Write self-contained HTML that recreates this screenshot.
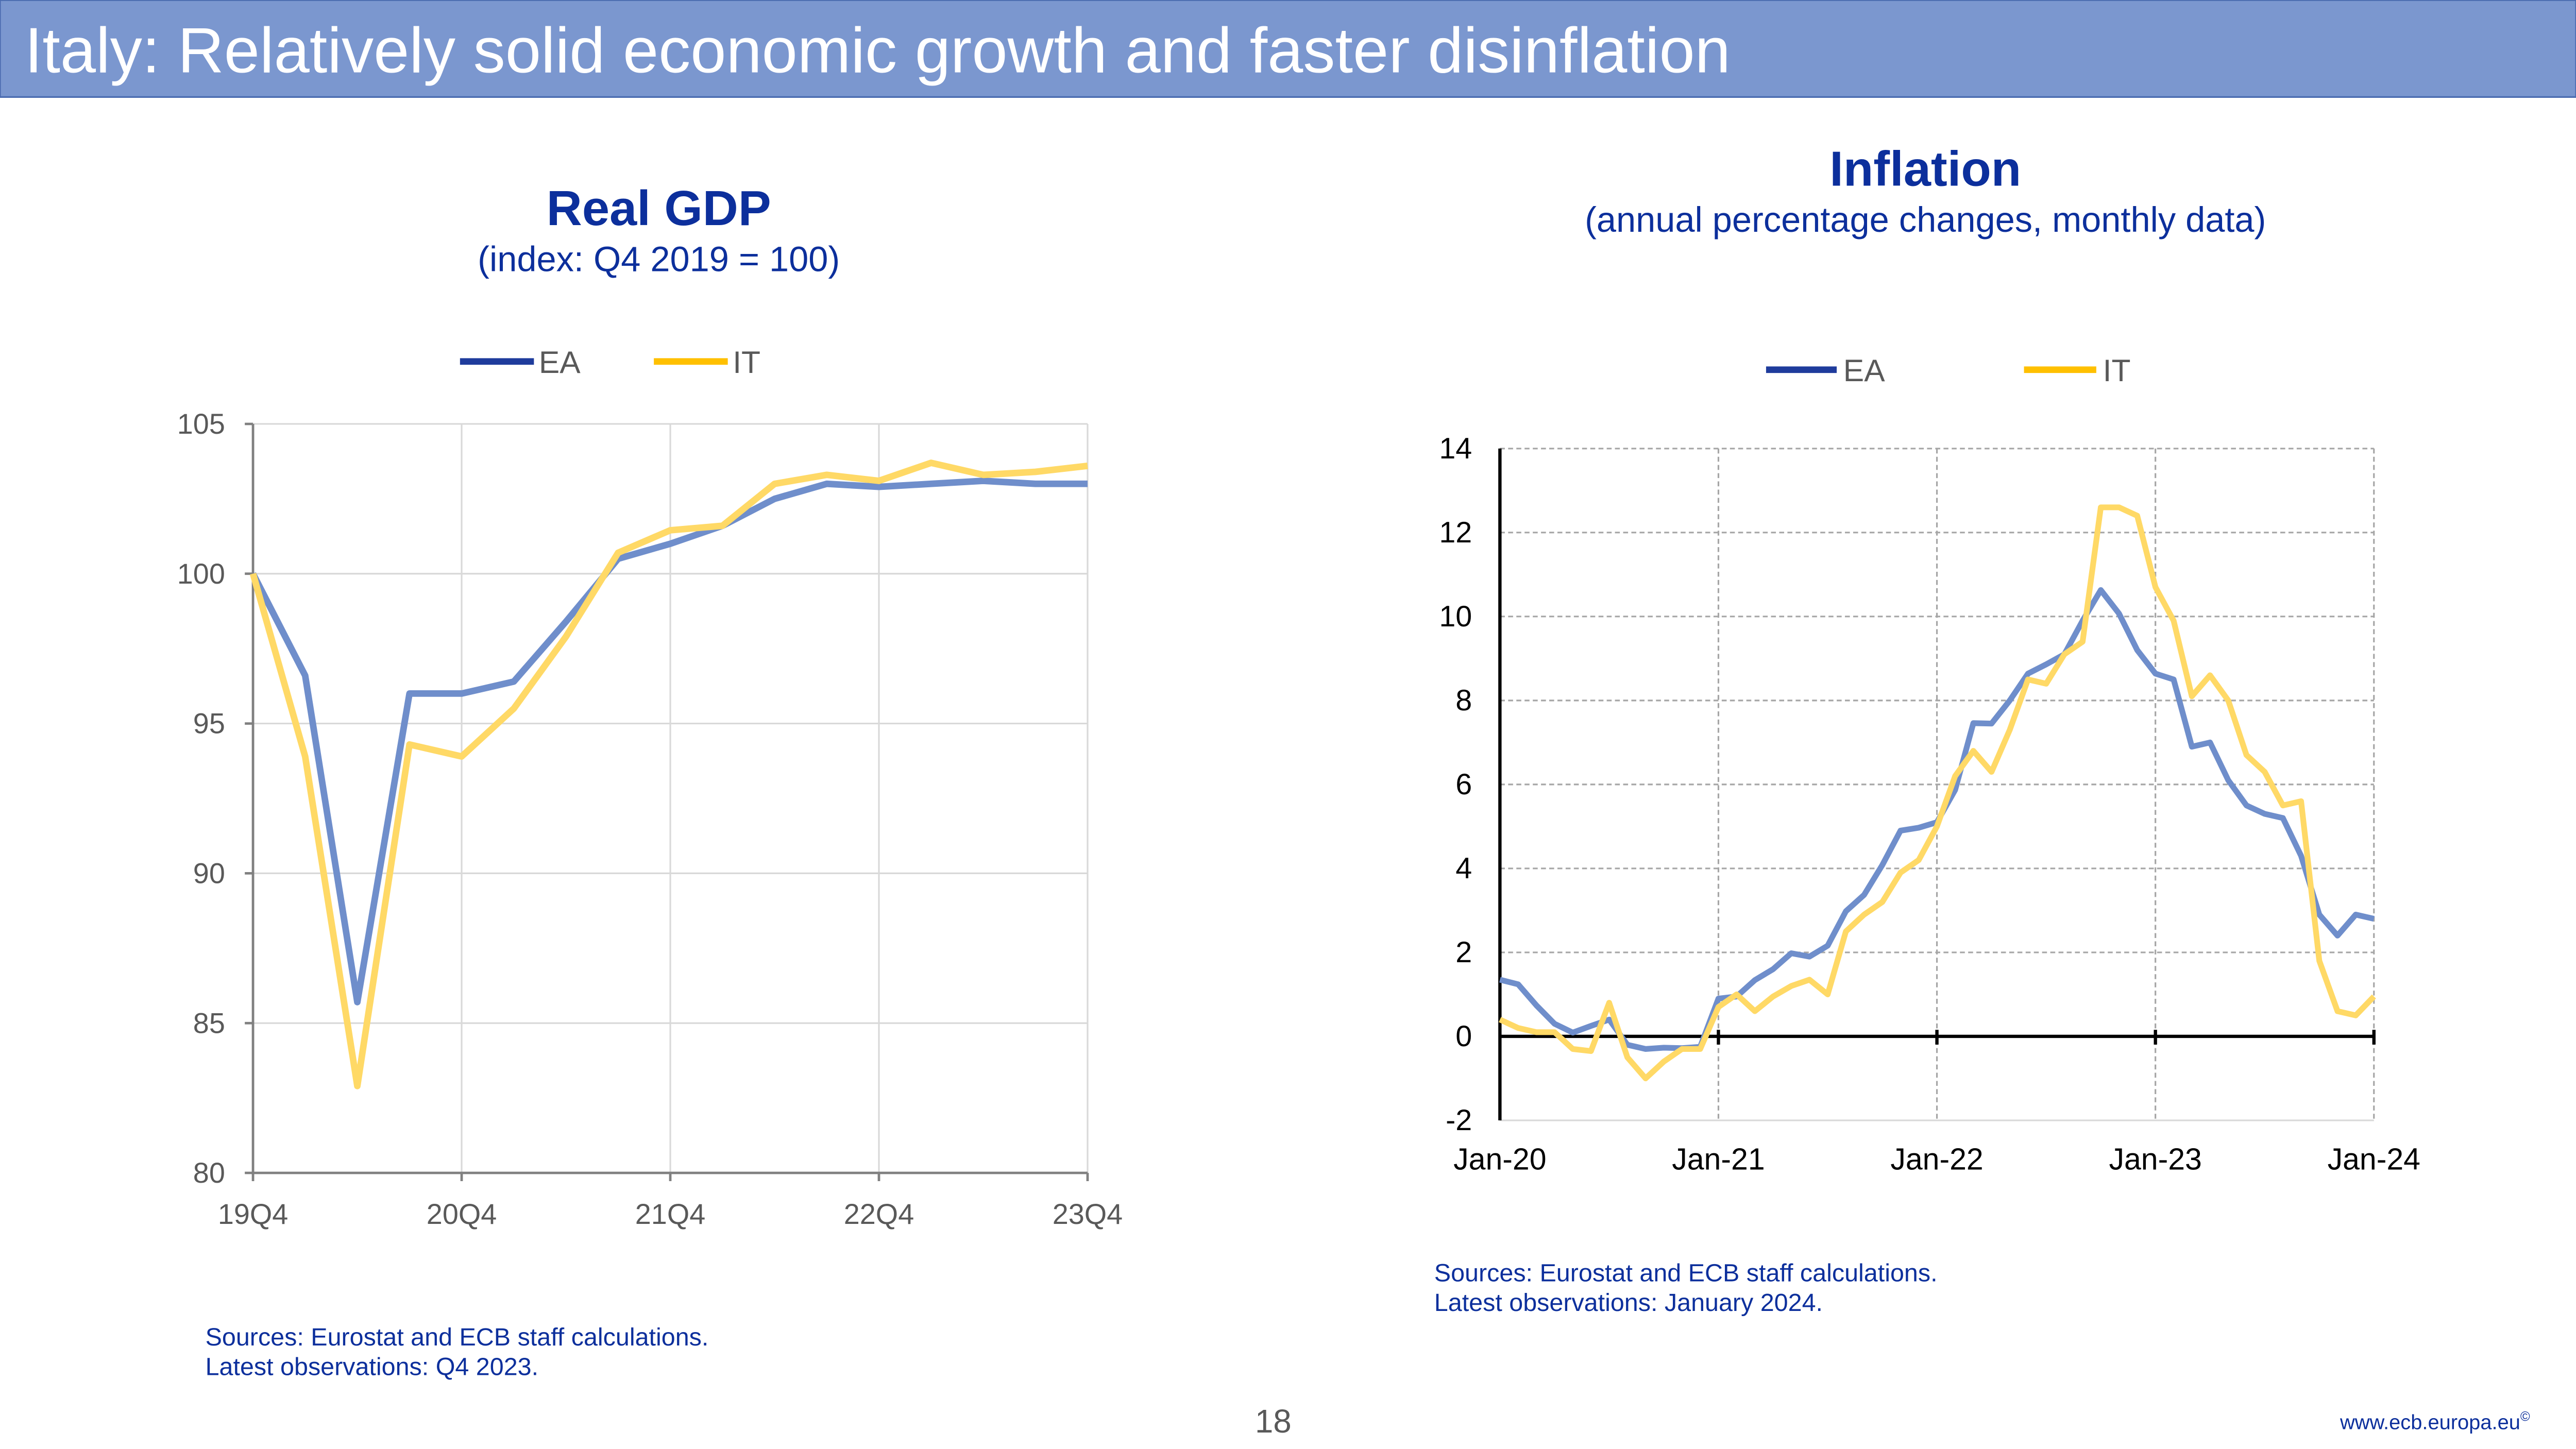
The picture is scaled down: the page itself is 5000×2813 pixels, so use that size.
<!DOCTYPE html>
<html><head><meta charset="utf-8"><style>
html,body{margin:0;padding:0;background:#fff;}
svg{display:block;font-family:"Liberation Sans",Arial,sans-serif;}
</style></head><body>
<svg id="s" width="5000" height="2813" viewBox="0 0 1568 882" xmlns="http://www.w3.org/2000/svg">
<rect x="0" y="0" width="1568" height="59" fill="#7b97cf" stroke="#4a6bb0" stroke-width="1"/>
<text x="15" y="44" font-size="39" fill="#fff">Italy: Relatively solid economic growth and faster disinflation</text>

<text x="401" y="137" font-size="30" font-weight="bold" fill="#0c2f9c" text-anchor="middle">Real GDP</text>
<text x="401" y="165" font-size="21.5" fill="#0c2f9c" text-anchor="middle">(index: Q4 2019 = 100)</text>
<g>
<line x1="280" y1="220" x2="325" y2="220" stroke="#1f3c9c" stroke-width="4"/>
<text x="328" y="227" font-size="19" fill="#595959">EA</text>
<line x1="398" y1="220" x2="443" y2="220" stroke="#ffc000" stroke-width="4"/>
<text x="446" y="227" font-size="19" fill="#595959">IT</text>
</g>
<g id="gdp"></g>

<text x="1172" y="113" font-size="30" font-weight="bold" fill="#0c2f9c" text-anchor="middle">Inflation</text>
<text x="1172" y="141" font-size="21.5" fill="#0c2f9c" text-anchor="middle">(annual percentage changes, monthly data)</text>
<g>
<line x1="1075" y1="225" x2="1118" y2="225" stroke="#1f3c9c" stroke-width="4"/>
<text x="1122" y="232" font-size="19" fill="#595959">EA</text>
<line x1="1232" y1="225" x2="1276" y2="225" stroke="#ffc000" stroke-width="4"/>
<text x="1280" y="232" font-size="19" fill="#595959">IT</text>
</g>
<g id="infl"></g>

<text x="125" y="819" font-size="15.2" fill="#0c2f9c">Sources: Eurostat and ECB staff calculations.</text>
<text x="125" y="837" font-size="15.2" fill="#0c2f9c">Latest observations: Q4 2023.</text>
<text x="873" y="780" font-size="15.2" fill="#0c2f9c">Sources: Eurostat and ECB staff calculations.</text>
<text x="873" y="798" font-size="15.2" fill="#0c2f9c">Latest observations: January 2024.</text>
<text x="775" y="872" font-size="20" fill="#595959" text-anchor="middle">18</text>
<text x="1540" y="870" font-size="12.5" fill="#0c2f9c" text-anchor="end">www.ecb.europa.eu<tspan font-size="8" dy="-5">©</tspan></text>
</svg>
<script>
const gdpCats=["19Q4","20Q1","20Q2","20Q3","20Q4","21Q1","21Q2","21Q3","21Q4","22Q1","22Q2","22Q3","22Q4","23Q1","23Q2","23Q3","23Q4"];
const gdpEA=[100,96.6,85.7,96.0,96.0,96.4,98.4,100.5,101.0,101.6,102.5,103.0,102.9,103.0,103.1,103.0,103.0];
const gdpIT=[100,93.9,82.9,94.3,93.9,95.5,97.9,100.7,101.45,101.6,103.0,103.3,103.1,103.7,103.3,103.4,103.6];
const gdpTicks=[80,85,90,95,100,105];
const gdpXLabels=["19Q4","20Q4","21Q4","22Q4","23Q4"];

const inflEA=[1.35,1.24,0.74,0.3,0.09,0.25,0.4,-0.2,-0.3,-0.27,-0.28,-0.25,0.9,0.95,1.34,1.6,1.98,1.9,2.16,2.98,3.37,4.08,4.9,4.97,5.1,5.87,7.46,7.45,8.0,8.64,8.86,9.1,9.9,10.63,10.07,9.2,8.64,8.5,6.9,7.0,6.1,5.5,5.3,5.2,4.3,2.9,2.4,2.9,2.8];
const inflIT=[0.4,0.2,0.1,0.1,-0.3,-0.35,0.8,-0.5,-1.0,-0.6,-0.3,-0.3,0.7,1.0,0.6,0.95,1.2,1.35,1.0,2.5,2.9,3.2,3.9,4.2,5.0,6.2,6.8,6.3,7.3,8.5,8.4,9.1,9.4,12.6,12.6,12.4,10.7,9.9,8.1,8.6,8.0,6.7,6.3,5.5,5.6,1.8,0.6,0.5,0.95];
const inflTicks=[-2,0,2,4,6,8,10,12,14];
const inflXLabels=["Jan-20","Jan-21","Jan-22","Jan-23","Jan-24"];

const NS="http://www.w3.org/2000/svg";
function mk(tag,attrs,parent,txt){const e=document.createElementNS(NS,tag);for(const k in attrs)e.setAttribute(k,attrs[k]);if(txt!==undefined)e.textContent=txt;parent.appendChild(e);return e;}

(function(){
const g=document.getElementById('gdp');
const x0=154,x1=662,yTop=258,yBot=714,vmin=80,vmax=105;
const xs=i=>x0+(x1-x0)*i/(gdpCats.length-1);
const ys=v=>yBot-(v-vmin)/(vmax-vmin)*(yBot-yTop);
gdpTicks.forEach(t=>{
 const l=mk('line',{x1:x0,x2:x1,y1:ys(t),y2:ys(t),stroke:'#d9d9d9','stroke-width':1},g);
 
 
 const tk=mk('line',{x1:x0-5,x2:x0,y1:ys(t),y2:ys(t),stroke:'#808080','stroke-width':1.5},g);
 
 
 const tx=mk('text',{x:x0-17,y:ys(t)+6,'font-size':17.5,fill:'#595959','text-anchor':'end'},g,String(t));
 
 
});
gdpXLabels.forEach(lab=>{
 const i=gdpCats.indexOf(lab);const x=xs(i);
 if(i>0){const l=mk('line',{x1:x,x2:x,y1:yTop,y2:yBot,stroke:'#d9d9d9','stroke-width':1},g);
 
 }
 const tk=mk('line',{x1:x,x2:x,y1:yBot,y2:yBot+5,stroke:'#808080','stroke-width':1.5},g);
 
 
 const tx=mk('text',{x:x,y:yBot+31,'font-size':17.5,fill:'#595959','text-anchor':'middle'},g,lab);
 
 
});
const ax=mk('path',{d:`M${x0},${yTop} V${yBot} H${x1}`,stroke:'#808080','stroke-width':1.5,fill:'none'},g);


[[gdpEA,'#6f8ecb','gdp-line-ea'],[gdpIT,'#ffd966','gdp-line-it']].forEach(([d,c,n])=>{
 const p=mk('polyline',{points:d.map((v,i)=>xs(i)+','+ys(v)).join(' '),fill:'none',stroke:c,'stroke-width':4,'stroke-linejoin':'round'},g);
 
 
});
})();

(function(){
const g=document.getElementById('infl');
const x0=913,x1=1445,yTop=273,yBot=682,vmin=-2,vmax=14,n=inflEA.length;
const xs=i=>x0+(x1-x0)*i/(n-1);
const ys=v=>yBot-(v-vmin)/(vmax-vmin)*(yBot-yTop);
inflTicks.forEach(t=>{
 if(t>vmin){const l=mk('line',{x1:x0,x2:x1,y1:ys(t),y2:ys(t),stroke:'#a6a6a6','stroke-width':1,'stroke-dasharray':'3,2'},g);
 
 }
 const tx=mk('text',{x:896,y:ys(t)+6,'font-size':18,fill:'#000','text-anchor':'end'},g,String(t));
 
 
});
const bl=mk('line',{x1:x0,x2:x1,y1:yBot,y2:yBot,stroke:'#d9d9d9','stroke-width':1},g);


inflXLabels.forEach((lab,k)=>{
 const i=k*12;const x=xs(i);
 if(k>0){const l=mk('line',{x1:x,x2:x,y1:yTop,y2:yBot,stroke:'#a6a6a6','stroke-width':1,'stroke-dasharray':'3,2'},g);
 
 
 const tk=mk('line',{x1:x,x2:x,y1:ys(0)-4,y2:ys(0)+5,stroke:'#000','stroke-width':2},g);
 
 }
 const tx=mk('text',{x:x,y:yBot+30,'font-size':18.5,fill:'#000','text-anchor':'middle'},g,lab);
 
 
});
const ya=mk('line',{x1:x0,x2:x0,y1:yTop,y2:yBot,stroke:'#000','stroke-width':2},g);


const xa=mk('line',{x1:x0,x2:x1,y1:ys(0),y2:ys(0),stroke:'#000','stroke-width':2},g);


[[inflEA,'#6f8ecb','infl-line-ea'],[inflIT,'#ffd966','infl-line-it']].forEach(([d,c,nm])=>{
 const p=mk('polyline',{points:d.map((v,i)=>xs(i)+','+ys(v)).join(' '),fill:'none',stroke:c,'stroke-width':3.5,'stroke-linejoin':'round'},g);
 
 
});
})();
</script>
</body></html>
